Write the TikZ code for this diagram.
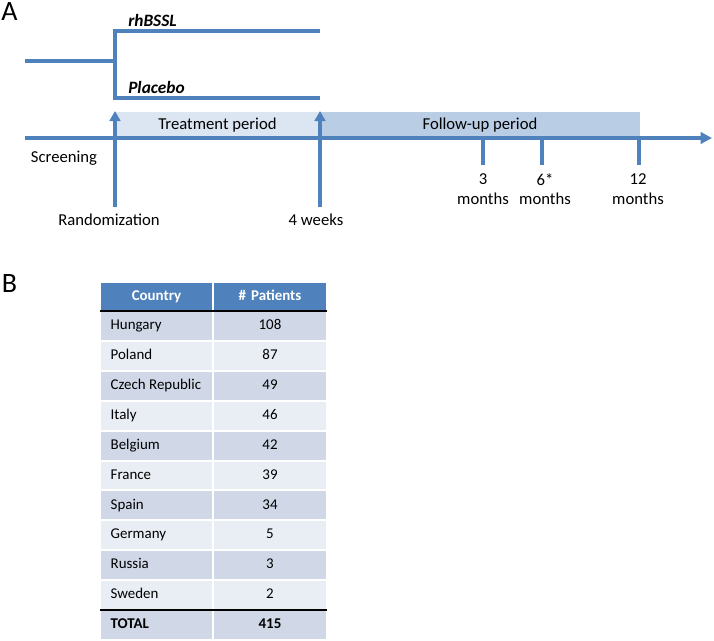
\documentclass[tikz,border=0pt]{standalone}
\usepackage{fontspec}
\setmainfont{Carlito}
\usepackage{tikz}
\usetikzlibrary{arrows.meta, positioning}
\definecolor{studyblue}{RGB}{79,129,189}
\definecolor{treatfill}{RGB}{220,230,242}
\definecolor{followfill}{RGB}{185,205,229}
\definecolor{rowdark}{RGB}{208,216,232}
\definecolor{rowlight}{RGB}{233,237,244}

\begin{document}
\begin{tikzpicture}[x=0.75pt,y=-0.75pt]
\tikzset{arm/.style = {draw=studyblue, line width=2.5pt}}
\tikzset{uparrow/.style = {arm, -{Triangle[length=7.5pt,width=8pt]}}}
\tikzset{txt/.style = {inner sep=0pt, font=\fontsize{12.5}{14.5}\selectfont, align=center}}
\tikzset{armname/.style = {inner sep=0pt, anchor=base west, font=\fontsize{13}{15}\selectfont\bfseries\itshape}}
\tikzset{period/.style = {txt, minimum height=19.5pt}}
\tikzset{panel/.style = {inner sep=0pt, anchor=south, font=\fontsize{21}{24}\selectfont}}
\tikzset{cell/.style = {outer sep=0pt, inner xsep=6pt, inner ysep=0pt, minimum height=22.425pt,
  text height=8pt, text depth=2.5pt, draw=white, line width=1.5pt, font=\fontsize{11.2}{13}\selectfont}}
\tikzset{namecol/.style = {cell, text width=72.75pt, align=flush left, execute at begin node=\hspace*{2pt}}}
\tikzset{numcol/.style = {cell, text width=73.5pt, align=center}}
\tikzset{hdr/.style = {fill=studyblue, text=white, font=\fontsize{11.2}{13}\selectfont\bfseries, minimum height=21.75pt}}
\tikzset{rule/.style = {draw=black, line width=1.4pt}}
\useasboundingbox (0,0) rectangle (714,640);
% panel A
\node[panel] (pa) at (9.5,21) {A};
\node[period, fill=treatfill, minimum width=153.75pt] (treat) at (217.5,125) {Treatment period};
\node[period, fill=followfill, minimum width=240pt] (follow) at (480,125) {Follow-up period};
% arms
\coordinate (in) at (25,61);
\coordinate (split) at (115,61);
\coordinate (rh0) at (115,31);
\coordinate (rh1) at (320,31);
\coordinate (pl0) at (115,98);
\coordinate (pl1) at (320,98);
\draw[arm] (in) -- (split);
\draw[arm, line join=miter] (rh1) -- (rh0) -- (pl0) -- (pl1);
\node[armname] (rh) at (128,26) {rhBSSL};
\node[armname] (pl) at (128,93) {Placebo};
% timeline
\coordinate (t0) at (25,138);
\coordinate (t1) at (712,138);
\draw[arm, -{Triangle[length=8.5pt,width=8.5pt]}] (t0) -- (t1);
\coordinate (rnd) at (115,207);
\coordinate (rndtip) at (115,111);
\coordinate (wk) at (320,207);
\coordinate (wktip) at (320,111);
\draw[uparrow] (rnd) -- (rndtip);
\draw[uparrow] (wk) -- (wktip);
\coordinate (m3) at (483,138);
\coordinate (m3b) at (483,165);
\coordinate (m6) at (542,138);
\coordinate (m6b) at (542,165);
\coordinate (m12) at (639,138);
\coordinate (m12b) at (639,165);
\draw[arm] (m3) -- (m3b);
\draw[arm] (m6) -- (m6b);
\draw[arm] (m12) -- (m12b);
\node[txt] (scr) at (64,158) {Screening};
\node[txt] (rndl) at (109,220) {Randomization};
\node[txt] (wkl) at (316,220) {4 weeks};
\node[txt] (m3l) at (483,189) {3\\months};
\node[txt] (m6l) at (545,189) {6*\\months};
\node[txt] (m12l) at (638,189) {12\\months};
% panel B
\node[panel] (pb) at (9.5,293) {B};
\node[numcol, hdr, text width=72.75pt] (hc) at (156.5,296.5) {Country};
\node[numcol, hdr] (hp) at (270,296.5) {\# Patients};
\node[namecol, fill=rowdark, below=0pt of hc] (c1) {Hungary};
\node[numcol, fill=rowdark, below=0pt of hp] (p1) {108};
\node[namecol, fill=rowlight, below=0pt of c1] (c2) {Poland};
\node[numcol, fill=rowlight, below=0pt of p1] (p2) {87};
\node[namecol, fill=rowdark, below=0pt of c2] (c3) {Czech Republic};
\node[numcol, fill=rowdark, below=0pt of p2] (p3) {49};
\node[namecol, fill=rowlight, below=0pt of c3] (c4) {Italy};
\node[numcol, fill=rowlight, below=0pt of p3] (p4) {46};
\node[namecol, fill=rowdark, below=0pt of c4] (c5) {Belgium};
\node[numcol, fill=rowdark, below=0pt of p4] (p5) {42};
\node[namecol, fill=rowlight, below=0pt of c5] (c6) {France};
\node[numcol, fill=rowlight, below=0pt of p5] (p6) {39};
\node[namecol, fill=rowdark, below=0pt of c6] (c7) {Spain};
\node[numcol, fill=rowdark, below=0pt of p6] (p7) {34};
\node[namecol, fill=rowlight, below=0pt of c7] (c8) {Germany};
\node[numcol, fill=rowlight, below=0pt of p7] (p8) {5};
\node[namecol, fill=rowdark, below=0pt of c8] (c9) {Russia};
\node[numcol, fill=rowdark, below=0pt of p8] (p9) {3};
\node[namecol, fill=rowlight, below=0pt of c9] (c10) {Sweden};
\node[numcol, fill=rowlight, below=0pt of p9] (p10) {2};
\node[namecol, fill=rowdark, font=\fontsize{11.2}{13}\selectfont\bfseries, below=0pt of c10] (c11) {TOTAL};
\node[numcol, fill=rowdark, font=\fontsize{11.2}{13}\selectfont\bfseries, below=0pt of p10] (p11) {415};
\draw[rule] (hc.south west) -- (hp.south east);
\draw[rule] (c11.north west) -- (p11.north east);
\end{tikzpicture}
\end{document}
